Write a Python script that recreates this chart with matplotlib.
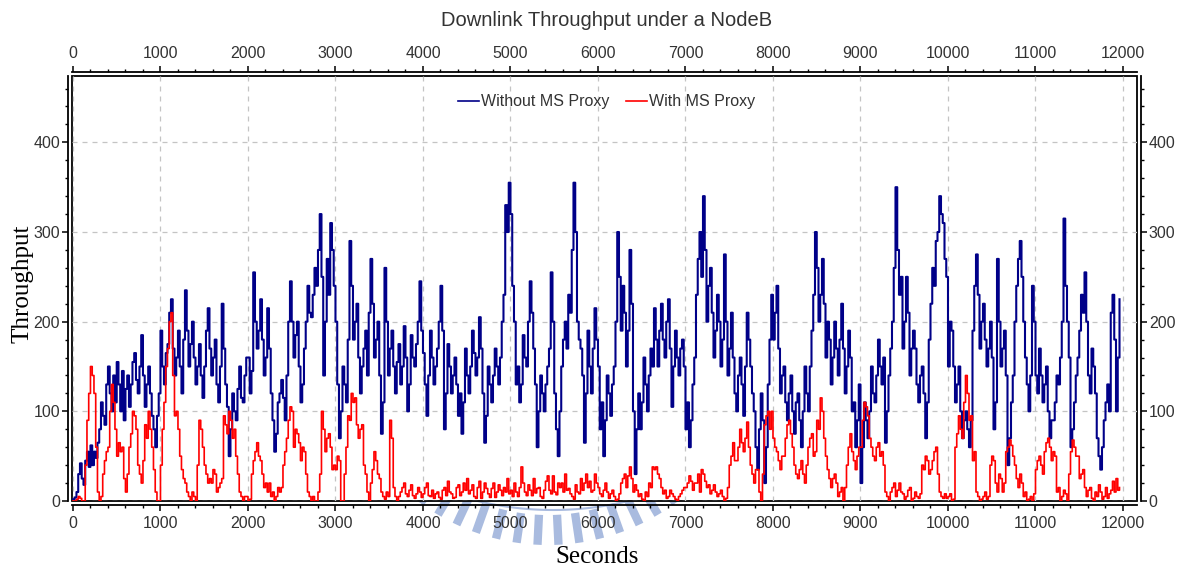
import numpy as np
import matplotlib
matplotlib.use("Agg")
import matplotlib.pyplot as plt
from matplotlib.lines import Line2D
from matplotlib.ticker import MultipleLocator

plt.rcParams["font.family"] = ["Liberation Sans", "DejaVu Sans"]

# Throughput samples every 20 s, starting at t = 0 (one row = 500 s)
T_STEP = 20

without_proxy = [
    2, 4, 10, 30, 42, 25, 18, 45, 55, 38, 62, 40, 55, 48, 65, 80, 110, 95, 85, 130, 150, 120, 100, 140, 110,
    155, 130, 100, 145, 90, 125, 140, 105, 130, 155, 165, 135, 120, 150, 185, 140, 105, 130, 150, 120, 95, 80, 60, 95, 120,
    190, 150, 130, 165, 175, 210, 225, 170, 140, 160, 190, 150, 120, 180, 235, 190, 150, 175, 200, 160, 130, 150, 175, 140, 115,
    150, 190, 215, 170, 140, 160, 180, 130, 110, 150, 220, 170, 130, 105, 50, 80, 120, 100, 90, 125, 150, 115, 110, 140, 160,
    160, 120, 145, 255, 200, 170, 190, 225, 180, 140, 160, 215, 170, 120, 90, 55, 75, 110, 120, 135, 115, 90, 140, 200, 245,
    200, 160, 185, 200, 150, 110, 130, 170, 200, 240, 210, 205, 230, 260, 240, 280, 320, 250, 140, 200, 270, 230, 310, 280, 240,
    200, 130, 70, 100, 150, 130, 110, 180, 290, 240, 180, 200, 220, 160, 120, 150, 170, 190, 140, 210, 270, 220, 160, 180, 200,
    140, 75, 110, 260, 200, 140, 170, 190, 150, 120, 155, 175, 130, 150, 195, 160, 100, 130, 185, 160, 150, 175, 200, 245, 190,
    165, 130, 95, 140, 190, 160, 130, 150, 170, 200, 240, 190, 80, 120, 175, 150, 120, 140, 160, 130, 95, 120, 75, 110, 170,
    140, 120, 150, 190, 165, 140, 160, 205, 170, 120, 65, 95, 150, 130, 110, 140, 170, 150, 130, 160, 200, 230, 330, 300, 355,
    320, 240, 200, 130, 150, 110, 130, 185, 160, 150, 200, 245, 210, 170, 130, 60, 100, 140, 120, 100, 130, 150, 170, 255, 200,
    120, 80, 50, 100, 150, 180, 200, 170, 230, 210, 280, 355, 300, 200, 180, 170, 140, 65, 120, 190, 150, 120, 170, 215, 180,
    150, 80, 110, 50, 90, 140, 120, 95, 130, 150, 200, 300, 250, 190, 240, 210, 150, 190, 280, 220, 100, 30, 80, 120, 80,
    110, 160, 130, 100, 140, 170, 150, 215, 180, 150, 190, 220, 180, 160, 200, 225, 170, 105, 150, 190, 160, 140, 170, 180, 150,
    80, 110, 60, 90, 130, 160, 230, 270, 300, 250, 340, 280, 200, 240, 260, 210, 160, 190, 230, 200, 150, 180, 275, 200, 140,
    170, 210, 160, 120, 100, 140, 160, 130, 95, 150, 210, 180, 150, 120, 100, 60, 35, 80, 120, 90, 20, 60, 130, 180, 230,
    180, 210, 240, 170, 120, 140, 150, 110, 90, 120, 140, 100, 75, 110, 120, 90, 60, 100, 150, 120, 100, 150, 190, 230, 300,
    260, 200, 230, 270, 220, 160, 200, 180, 130, 160, 200, 170, 140, 180, 220, 170, 120, 150, 190, 160, 100, 110, 60, 90, 130,
    20, 60, 110, 90, 70, 100, 150, 120, 110, 140, 180, 150, 130, 160, 65, 100, 140, 170, 200, 260, 350, 280, 230, 250, 170,
    200, 250, 210, 140, 170, 190, 170, 130, 110, 140, 150, 120, 70, 110, 180, 220, 260, 240, 290, 300, 340, 320, 310, 270, 250,
    150, 200, 190, 150, 110, 130, 150, 100, 70, 90, 100, 80, 60, 90, 190, 240, 275, 230, 170, 200, 220, 180, 150, 170, 200,
    160, 80, 110, 270, 200, 150, 170, 190, 140, 40, 70, 110, 140, 200, 240, 270, 290, 250, 200, 160, 130, 100, 140, 240, 200,
    140, 120, 170, 140, 110, 130, 150, 100, 70, 90, 90, 110, 140, 130, 160, 200, 315, 240, 200, 160, 60, 80, 110, 140, 160,
    190, 230, 210, 255, 200, 140, 120, 170, 150, 120, 70, 50, 35, 60, 90, 110, 130, 100, 210, 230, 180, 100, 160, 225,
]

with_proxy = [
    0, 0, 2, 5, 3, 0, 0, 40, 90, 120, 150, 140, 120, 60, 10, 0, 5, 30, 45, 55, 60, 100, 130, 110, 80,
    50, 65, 55, 60, 25, 10, 30, 60, 75, 100, 95, 80, 40, 30, 20, 45, 85, 70, 100, 80, 60, 35, 10, 0, 0,
    40, 80, 110, 150, 170, 200, 210, 140, 95, 100, 80, 50, 35, 25, 20, 10, 5, 0, 10, 5, 0, 40, 90, 80, 60,
    40, 30, 20, 25, 20, 35, 30, 10, 15, 20, 25, 95, 85, 75, 100, 90, 70, 80, 50, 30, 10, 5, 0, 5, 5,
    0, 2, 30, 45, 55, 65, 50, 45, 30, 15, 20, 10, 20, 5, 10, 0, 5, 15, 10, 15, 40, 55, 70, 90, 105,
    100, 60, 80, 75, 65, 45, 60, 55, 30, 10, 5, 0, 5, 0, 0, 10, 30, 100, 80, 55, 70, 75, 60, 35, 40,
    35, 50, 45, 0, 0, 30, 60, 95, 90, 120, 110, 115, 85, 70, 80, 85, 40, 30, 10, 0, 20, 35, 55, 45, 30,
    25, 10, 5, 2, 10, 5, 90, 70, 15, 5, 0, 5, 10, 15, 20, 8, 5, 12, 18, 6, 3, 8, 15, 10, 4,
    8, 15, 20, 6, 5, 12, 3, 8, 10, 4, 2, 12, 15, 6, 22, 10, 8, 3, 4, 15, 18, 6, 10, 20, 12,
    25, 8, 12, 18, 5, 3, 15, 22, 3, 10, 20, 14, 8, 4, 14, 20, 4, 10, 18, 12, 6, 15, 10, 25, 8,
    12, 5, 20, 10, 5, 15, 38, 20, 10, 6, 18, 12, 6, 25, 9, 14, 15, 5, 3, 12, 22, 28, 12, 8, 28,
    10, 7, 20, 15, 20, 10, 30, 12, 14, 8, 5, 2, 18, 10, 8, 25, 12, 20, 30, 15, 22, 10, 12, 30, 20,
    15, 8, 5, 12, 20, 10, 3, 8, 12, 5, 0, 2, 8, 20, 25, 30, 15, 28, 38, 25, 10, 18, 12, 5, 8,
    2, 0, 10, 5, 20, 15, 38, 35, 38, 30, 25, 15, 8, 12, 3, 5, 12, 8, 5, 2, 0, 5, 8, 12, 15,
    15, 20, 28, 22, 12, 20, 20, 30, 10, 35, 30, 22, 15, 18, 8, 12, 18, 10, 5, 8, 12, 5, 0, 3, 15,
    40, 50, 65, 45, 45, 60, 80, 65, 55, 70, 88, 60, 40, 30, 20, 35, 35, 10, 0, 30, 85, 95, 100, 80, 100,
    70, 60, 55, 45, 35, 50, 50, 70, 85, 90, 75, 60, 40, 30, 25, 35, 45, 30, 20, 40, 60, 70, 75, 50, 55,
    90, 80, 115, 100, 70, 50, 35, 25, 15, 25, 30, 20, 5, 10, 15, 0, 15, 40, 60, 75, 55, 45, 35, 50, 60,
    60, 90, 110, 105, 95, 70, 60, 50, 45, 60, 65, 50, 55, 40, 10, 5, 0, 10, 15, 20, 5, 12, 20, 10, 8,
    2, 5, 12, 15, 0, 3, 10, 5, 3, 8, 40, 35, 50, 45, 30, 35, 45, 55, 60, 30, 10, 5, 3, 8, 3,
    5, 8, 0, 2, 60, 75, 95, 80, 70, 110, 140, 120, 90, 95, 45, 55, 10, 5, 0, 2, 5, 10, 2, 5, 40,
    50, 45, 20, 10, 30, 25, 10, 20, 55, 60, 68, 62, 50, 40, 25, 15, 30, 20, 5, 10, 0, 2, 5, 0, 8,
    35, 45, 50, 40, 30, 55, 65, 70, 60, 45, 55, 50, 10, 15, 0, 5, 12, 8, 0, 30, 55, 68, 60, 50, 50,
    25, 30, 35, 15, 5, 12, 15, 3, 0, 10, 5, 18, 10, 2, 5, 15, 3, 8, 12, 22, 10, 25, 12, 15,
]

seconds = np.arange(len(without_proxy)) * T_STEP

W, H = 1179, 569
fig = plt.figure(figsize=(W / 100, H / 100), dpi=100)

# faint dashed arc logo sitting under the x axis (mostly hidden behind the plot)
cx, cy = 548, H - 330
for ang in np.linspace(228, 312, 16):
    a = np.deg2rad(ang)
    xs = [cx + 185 * np.cos(a), cx + 215 * np.cos(a)]
    ys = [cy + 185 * np.sin(a), cy + 215 * np.sin(a)]
    fig.add_artist(Line2D(np.array(xs) / W, np.array(ys) / H, color="#a9bbdf",
                          lw=6, solid_capstyle="butt", zorder=-1))
arc = np.deg2rad(np.linspace(255, 285, 60))
fig.add_artist(Line2D((553 + 320 * np.cos(arc)) / W, (H - 190 + 320 * np.sin(arc)) / H,
                      color="#a9bbdf", lw=1.5, zorder=-1))

ax = fig.add_axes([72 / W, 68 / H, 1065 / W, 425 / H])

ax.plot(seconds, without_proxy, color="#000088", lw=1.5, drawstyle="steps-post",
        label="Without MS Proxy")
ax.plot(seconds, with_proxy, color="#ff0000", lw=1.2, drawstyle="steps-post",
        label="With MS Proxy")

ax.set_xlim(-11, 12160)
ax.set_ylim(0, 474)
ax.xaxis.set_major_locator(MultipleLocator(1000))
ax.xaxis.set_minor_locator(MultipleLocator(200))
ax.yaxis.set_major_locator(MultipleLocator(100))
ax.yaxis.set_minor_locator(MultipleLocator(20))

ax.grid(True, which="major", color="#c4c4c4", linestyle=(0, (4, 4)), linewidth=0.9)

# inner frame plus axis lines pushed slightly outward
ax.patch.set_edgecolor("black")
ax.patch.set_linewidth(1.3)
for spine in ax.spines.values():
    spine.set_position(("outward", 3))
    spine.set_linewidth(1.3)

ax.tick_params(which="both", direction="out", top=True, right=True,
               labeltop=True, labelright=True, labelsize=11.5, labelcolor="#333333")
ax.tick_params(which="major", length=4, width=1.1)
ax.tick_params(which="minor", length=2.5, width=1.0)
ax.tick_params(axis="y", which="major", pad=1.5)
ax.tick_params(axis="x", which="major", pad=3.5)

leg = ax.legend(loc="center", bbox_to_anchor=(0.502, 0.939), ncol=2, frameon=False,
                fontsize=11.5, handlelength=1.3, handletextpad=0.15, columnspacing=1.0,
                labelcolor="#333333")
for handle in leg.legend_handles:
    handle.set_linewidth(1.2)

fig.text(607 / W, 1 - 20 / H, "Downlink Throughput under a NodeB", ha="center", va="center",
         fontsize=14.5, color="#333333")
fig.text(22 / W, 1 - 284 / H, "Throughput", rotation=90, ha="center", va="center",
         fontsize=18, family="Liberation Serif")
fig.text(597 / W, 1 - 557 / H, "Seconds", ha="center", va="center",
         fontsize=18, family="Liberation Serif")

fig.savefig("out.png", dpi=100)
